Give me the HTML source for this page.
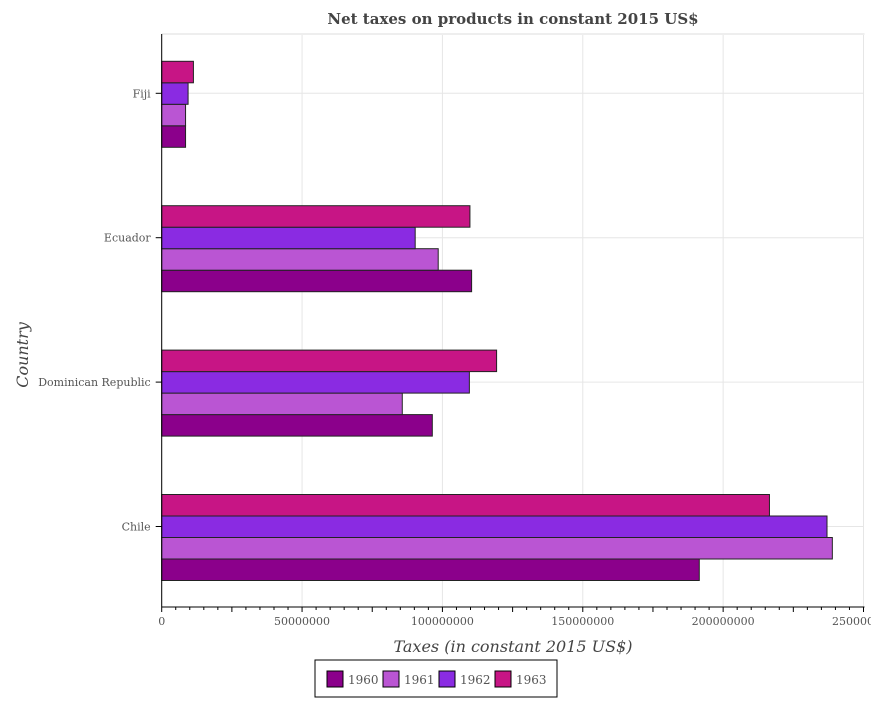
<!DOCTYPE html>
<html><head><meta charset="utf-8"><style>
body{margin:0;background:#fff}
svg text{font-family:"DejaVu Serif","Liberation Serif",serif}
</style></head><body>
<svg id="c" width="871" height="700" xmlns="http://www.w3.org/2000/svg">
<text x="513" y="24" text-anchor="middle" font-size="15" font-weight="bold" fill="#444">Net taxes on products in constant 2015 US$</text>
<g id="grid"></g><g id="bars"></g><g id="axes"></g>
<text x="513" y="652" text-anchor="middle" font-size="16" font-style="italic" fill="#444">Taxes (in constant 2015 US$)</text>
<text transform="translate(28,355) rotate(-90)" text-anchor="middle" font-size="16" font-style="italic" fill="#444">Country</text>
<g id="legend"></g>
</svg>
<script>
const categories=["Fiji","Ecuador","Dominican Republic","Chile"];
const seriesNames=["1960","1961","1962","1963"];
const v1960=[8.5e6,110.4e6,96.4e6,191.5e6];
const v1961=[8.5e6,98.5e6,85.7e6,238.9e6];
const v1962=[9.4e6,90.3e6,109.6e6,237.0e6];
const v1963=[11.3e6,109.8e6,119.3e6,216.5e6];
const xTicks=[0,50000000,100000000,150000000,200000000,250000000];
const colors=["#8b008b","#ba55d3","#8a2be2","#c71585"];
const NS="http://www.w3.org/2000/svg";
const X0=161.7,X1=863.5,XMAX=250e6,TOP=34,BOT=607;
const x=v=>X0+(v/XMAX)*(X1-X0);
const yTick=i=>93.3+i*144.4;
function mk(t,a,p){const e=document.createElementNS(NS,t);for(const k in a)e.setAttribute(k,a[k]);document.getElementById(p).appendChild(e);return e;}
xTicks.forEach((t,i)=>{
 const g=mk("line",{x1:x(t),x2:x(t),y1:TOP,y2:BOT,stroke:"#e6e6e6"},"grid");
 
 
 const l=mk("text",{x:x(t),y:BOT+18,"text-anchor":"middle","font-size":"11",fill:"#555"},"axes");
 l.textContent=t;
 
 
});
for(let i=0;i<=50;i++){const xx=X0+i*(X1-X0)/50;mk("line",{x1:xx,x2:xx,y1:BOT,y2:BOT+(i%5?3:5),stroke:"#000"},"axes");}
mk("line",{x1:X0,x2:X1+1,y1:TOP,y2:TOP,stroke:"#eee",'stroke-width':2},"grid");
categories.forEach((c,i)=>{
 const g=mk("line",{x1:X0,x2:X1,y1:yTick(i),y2:yTick(i),stroke:"#e6e6e6"},"grid");
 
 
 mk("line",{x1:X0-6,x2:X0,y1:yTick(i),y2:yTick(i),stroke:"#000"},"axes");
 const l=mk("text",{x:X0-11,y:yTick(i)+4,"text-anchor":"end","font-size":"11",fill:"#555"},"axes");
 l.textContent=c;
 
 
});
const series=[v1960,v1961,v1962,v1963];
categories.forEach((c,i)=>{
 series.forEach((s,j)=>{
  const bh=21.5,y0=yTick(i)-32+(3-j)*bh;
  const r=mk("rect",{x:X0,y:y0,width:x(s[i])-X0,height:bh,fill:colors[j],stroke:"#222","stroke-width":1},"bars");
  
  
 });
});
mk("line",{x1:X0,x2:X0,y1:TOP,y2:BOT,stroke:"#000"},"axes");
mk("line",{x1:X0,x2:X1+1,y1:BOT,y2:BOT,stroke:"#000"},"axes");
const lb=mk("rect",{x:315,y:660,width:242,height:37,fill:"#fff",stroke:"#000"},"legend");


seriesNames.forEach((n,j)=>{
 const lx=327+j*56;
 const sw=mk("rect",{x:lx,y:671,width:16,height:16,fill:colors[j],stroke:"#000"},"legend");
 
 
 const t=mk("text",{x:lx+21,y:684,"font-size":"12",fill:"#555"},"legend");
 t.textContent=n;
 
 
});
</script>
</body></html>
